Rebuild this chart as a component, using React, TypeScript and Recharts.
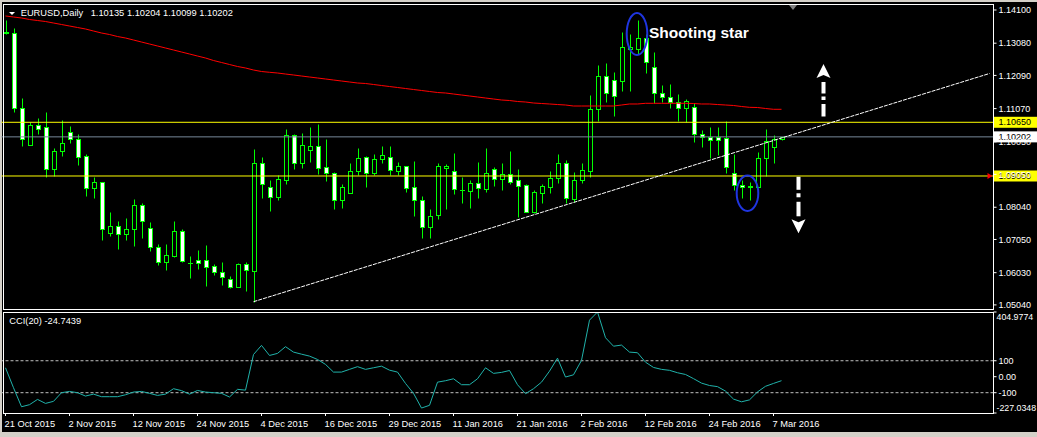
import React from 'react'
import {
  ComposedChart,
  Bar,
  Line,
  XAxis,
  YAxis,
  ReferenceLine,
  ReferenceDot,
} from 'recharts'

// EURUSD daily, 21 Oct 2015 .. 8 Mar 2016
const opens = [
  1.1338, 1.13384, 1.1108, 1.09962, 1.10558, 1.10496, 1.09206, 1.09759, 1.10343, 1.10127,
  1.09614, 1.08622, 1.08806, 1.0724, 1.07473, 1.07209, 1.07363, 1.081, 1.07393, 1.06828,
  1.06367, 1.06542, 1.07301, 1.0634, 1.0641, 1.0641, 1.06235, 1.0606, 1.05826, 1.05599,
  1.06287, 1.06091, 1.0939, 1.08671, 1.08364, 1.08886, 1.1025, 1.0939, 1.0979, 1.09912,
  1.09267, 1.09083, 1.08253, 1.08487, 1.09144, 1.09574, 1.09083, 1.09513, 1.09593, 1.09163,
  1.09307, 1.08653, 1.08253, 1.07442, 1.07793, 1.09255, 1.09144, 1.0856, 1.08548, 1.08776,
  1.0861, 1.09206, 1.08899, 1.09052, 1.08877, 1.08714, 1.07903, 1.08487, 1.08671, 1.08929,
  1.0939, 1.08293, 1.08877, 1.09163, 1.11049, 1.12072, 1.1194, 1.11919, 1.129, 1.12893,
  1.1323, 1.12339, 1.11541, 1.11418, 1.11283, 1.1108, 1.11111, 1.10281, 1.10189, 1.10189,
  1.10158, 1.09083, 1.08724, 1.08671, 1.08671, 1.09544, 1.09882, 1.10135,
]
const highs = [
  1.13793, 1.13538, 1.11387, 1.10668, 1.10773, 1.10957, 1.09851, 1.1072, 1.10536, 1.1029,
  1.09676, 1.08978, 1.0883, 1.07903, 1.07618, 1.077, 1.08293, 1.0817, 1.07587, 1.06911,
  1.06911, 1.07618, 1.07372, 1.06542, 1.06727, 1.0688, 1.06296, 1.06349, 1.05928, 1.06336,
  1.06358, 1.0982, 1.09574, 1.08877, 1.09022, 1.10444, 1.1028, 1.10312, 1.10496, 1.10598,
  1.10127, 1.09132, 1.08754, 1.09409, 1.0986, 1.096, 1.09676, 1.09922, 1.09922, 1.0943,
  1.0932, 1.09461, 1.08386, 1.07977, 1.0939, 1.09369, 1.09707, 1.08978, 1.08877, 1.0943,
  1.0986, 1.09286, 1.09409, 1.09768, 1.09206, 1.08754, 1.0857, 1.08745, 1.09154, 1.09676,
  1.09492, 1.09114, 1.0939, 1.11488, 1.1241, 1.12462, 1.12206, 1.13433, 1.13356, 1.13793,
  1.1335, 1.12819, 1.11796, 1.11826, 1.11519, 1.11356, 1.11252, 1.10413, 1.10515, 1.10496,
  1.1069, 1.09667, 1.08877, 1.08806, 1.09728, 1.10444, 1.1026, 1.10204,
]
const lows = [
  1.1336, 1.10975, 1.09922, 1.0995, 1.1029, 1.0896, 1.09, 1.09624, 1.10005, 1.09329,
  1.08395, 1.08315, 1.07034, 1.07143, 1.06748, 1.07034, 1.06859, 1.07104, 1.06705, 1.06266,
  1.06112, 1.06502, 1.06367, 1.05876, 1.06152, 1.0563, 1.05959, 1.05651, 1.0555, 1.0558,
  1.05476, 1.05138, 1.08333, 1.07934, 1.08263, 1.08754, 1.09215, 1.09255, 1.09439, 1.09061,
  1.08856, 1.07986, 1.08026, 1.08468, 1.09022, 1.08671, 1.09022, 1.0939, 1.09031, 1.09031,
  1.08518, 1.07771, 1.07086, 1.07086, 1.07688, 1.07986, 1.08447, 1.0818, 1.08026, 1.08324,
  1.08508, 1.08693, 1.0857, 1.08754, 1.0775, 1.0789, 1.07854, 1.0818, 1.08487, 1.08776,
  1.08161, 1.0821, 1.08794, 1.08978, 1.1069, 1.11281, 1.10855, 1.11611, 1.11611, 1.12748,
  1.12155, 1.11253, 1.11283, 1.1108, 1.10699, 1.10668, 1.10035, 1.099, 1.09544, 1.09645,
  1.09101, 1.0857, 1.08315, 1.08263, 1.0866, 1.09, 1.0939, 1.10099,
]
const closes = [
  1.13433, 1.1108, 1.10127, 1.10558, 1.10453, 1.09206, 1.09759, 1.10005, 1.10127, 1.09574,
  1.08622, 1.08806, 1.07363, 1.07473, 1.07209, 1.07363, 1.081, 1.07608, 1.06828, 1.06367,
  1.06564, 1.07301, 1.06398, 1.0633, 1.06336, 1.06213, 1.0606, 1.05888, 1.05599, 1.06287,
  1.06103, 1.0939, 1.08745, 1.08364, 1.08899, 1.1025, 1.0939, 1.09943, 1.09912, 1.09237,
  1.09083, 1.08253, 1.08653, 1.09144, 1.09544, 1.09083, 1.09513, 1.09636, 1.09175, 1.09307,
  1.08622, 1.08253, 1.07442, 1.0778, 1.09298, 1.09307, 1.08591, 1.0857, 1.08776, 1.08622,
  1.09101, 1.08899, 1.09052, 1.08825, 1.08702, 1.07903, 1.08508, 1.08693, 1.08929, 1.09399,
  1.08315, 1.08877, 1.09184, 1.11049, 1.12072, 1.11559, 1.11458, 1.12954, 1.1295, 1.1323,
  1.12493, 1.11541, 1.11418, 1.11283, 1.1108, 1.11313, 1.10281, 1.10189, 1.10106, 1.10097,
  1.09286, 1.08714, 1.08653, 1.0868, 1.09544, 1.10075, 1.1013, 1.10202,
]
// red moving average
const maValues = [
  1.13916, 1.13885, 1.13854, 1.13808, 1.13777, 1.13746, 1.137, 1.13654, 1.13608, 1.13562,
  1.13516, 1.13454, 1.13393, 1.13347, 1.13285, 1.13239, 1.13178, 1.13116, 1.13055, 1.12994,
  1.12932, 1.12871, 1.12809, 1.12748, 1.12686, 1.12625, 1.12548, 1.12487, 1.12425, 1.12364,
  1.12318, 1.12256, 1.1221, 1.12186, 1.12164, 1.12133, 1.12103, 1.12072, 1.12041, 1.12011,
  1.1198, 1.11949, 1.11918, 1.11888, 1.11857, 1.11842, 1.11811, 1.1178, 1.11749, 1.11719,
  1.11688, 1.11657, 1.11627, 1.11596, 1.11565, 1.1155, 1.11519, 1.11488, 1.11458, 1.11427,
  1.11396, 1.11365, 1.11335, 1.11319, 1.11289, 1.11273, 1.11243, 1.11227, 1.11212, 1.11196,
  1.11181, 1.1115, 1.1115, 1.1115, 1.1115, 1.1115, 1.1115, 1.11181, 1.11212, 1.11212,
  1.11233, 1.11233, 1.11233, 1.11233, 1.11233, 1.11233, 1.11227, 1.11212, 1.11212, 1.11196,
  1.11181, 1.11166, 1.11135, 1.1111, 1.11104, 1.11074, 1.11049, 1.11049,
]
// CCI(20)
const cciValues = [
  56, -69, -188, -175, -142, -167, -154, -100, -92, -100,
  -121, -109, -125, -125, -125, -113, -96, -92, -104, -117,
  -109, -75, -87, -109, -86, -96, -100, -104, -127, -79,
  -84, 139, 196, 133, 146, 188, 154, 141, 129, 108,
  77, 29, 29, 46, 63, 46, 56, 66, 41, 29,
  -42, -104, -196, -179, -34, -25, -13, -50, -50, -13,
  56, 21, 27, 39, -50, -106, -75, -34, 35, 116,
  -2, 12, 102, 354, 404.9774, 244, 191, 198, 154, 150,
  91, 58, 46, 40, 25, 14, -12, -40, -55, -62,
  -90, -140, -157, -145, -95, -60, -42, -24.7439,
]

const dateTicks = [0, 8, 16, 24, 32, 40, 48, 56, 64, 72, 80, 88, 96]
const dateLabels = [
  '21 Oct 2015', '2 Nov 2015', '12 Nov 2015', '24 Nov 2015', '4 Dec 2015', '16 Dec 2015',
  '29 Dec 2015', '11 Jan 2016', '21 Jan 2016', '2 Feb 2016', '12 Feb 2016', '24 Feb 2016',
  '7 Mar 2016',
]
const priceTicks = [1.141, 1.1308, 1.1209, 1.1107, 1.1005, 1.0905, 1.0804, 1.0705, 1.0603, 1.0504]
const cciTicks = [-227.0348, -100, 0, 100, 404.9774]
const quote = ['1.10135', '1.10204', '1.10099', '1.10202']

const RESISTANCE = 1.1065
const SUPPORT = 1.09
const BID = 1.10202
const TREND_FROM = { x: 31, y: 1.05138 }
const TREND_TO = { x: 123, y: 1.12149 }

const PRICE_MIN = 1.04914
const PRICE_MAX = 1.14284
const SLOTS = 124 // bars plus the empty shift area on the right

const FONT = '"Liberation Sans", Arial, sans-serif'
const CANDLE_LINE = '#00ff00'
const BLUE = '#1f35e0'

const rows = Array.from({ length: SLOTS }, (_, i) =>
  i < opens.length
    ? {
        i,
        range: [lows[i], highs[i]],
        open: opens[i],
        high: highs[i],
        low: lows[i],
        close: closes[i],
        ma: maValues[i],
        cci: cciValues[i],
      }
    : { i }
)

function Candle(props: any) {
  const { x, y, width, height, payload } = props
  if (!payload || payload.open == null || !Number.isFinite(y)) return <g />
  const { open, high, low, close } = payload
  const top = Math.min(y, y + height)
  const span = Math.abs(height)
  const toY = (v: number) => top + ((high - v) / (high - low)) * span
  const cx = Math.floor(x + width / 2) + 0.5
  const wickTop = Math.round(toY(high)) + 0.5
  const wickBottom = Math.round(toY(low)) + 0.5
  const bodyTop = Math.round(toY(Math.max(open, close))) + 0.5
  const bodyBottom = Math.round(toY(Math.min(open, close))) + 0.5
  const bull = close >= open
  return (
    <g>
      <line x1={cx} x2={cx} y1={wickTop} y2={wickBottom} stroke={CANDLE_LINE} />
      {bodyBottom - bodyTop < 1 ? (
        <line x1={cx - 2.5} x2={cx + 2.5} y1={bodyTop} y2={bodyTop} stroke={CANDLE_LINE} />
      ) : (
        <rect
          x={cx - 2}
          y={bodyTop}
          width={4}
          height={bodyBottom - bodyTop}
          fill={bull ? '#000' : '#fff'}
          stroke={CANDLE_LINE}
        />
      )}
    </g>
  )
}

function PriceTag(props: any) {
  const { viewBox, text, bg, alert } = props
  if (!viewBox) return null
  const left = viewBox.x + viewBox.width
  const y = viewBox.y
  return (
    <g>
      {alert && <polygon points={`${left - 6},${y - 3} ${left - 1},${y} ${left - 6},${y + 3}`} fill="#ff0000" />}
      <rect x={left} y={y - 5.5} width={44} height={11} fill={bg} />
      <text x={left + 5} y={y} dy="0.355em" fontSize={9} fontFamily={FONT} fill="#000">
        {text}
      </text>
    </g>
  )
}

function Ellipse(props: any) {
  const { cx, cy, rx, ry, dx = 0 } = props
  return <ellipse cx={cx + dx} cy={cy} rx={rx} ry={ry} fill="none" stroke={BLUE} strokeWidth={2} />
}

function UpArrow(props: any) {
  const cx = props.cx + 2
  const cy = props.cy
  return (
    <g fill="#fff">
      <polygon points={`${cx},${cy} ${cx + 7},${cy + 14} ${cx},${cy + 11} ${cx - 7},${cy + 14}`} />
      <rect x={cx - 2} y={cy + 18} width={4} height={11.5} />
      <rect x={cx - 2} y={cy + 32.5} width={4} height={3.5} />
      <rect x={cx - 2} y={cy + 40} width={4} height={12.5} />
    </g>
  )
}

function DownArrow(props: any) {
  const cx = props.cx + 1
  const cy = props.cy
  return (
    <g fill="#fff">
      <polygon points={`${cx},${cy} ${cx + 7},${cy - 14} ${cx},${cy - 11} ${cx - 7},${cy - 14}`} />
      <rect x={cx - 2} y={cy - 56.5} width={4} height={13} />
      <rect x={cx - 2} y={cy - 40} width={4} height={4} />
      <rect x={cx - 2} y={cy - 31.5} width={4} height={14.5} />
    </g>
  )
}

function StarLabel(props: any) {
  return (
    <text x={props.cx - 4.5} y={props.cy} fill="#fff" fontSize={15.5} fontWeight="bold" fontFamily={FONT}>
      Shooting star
    </text>
  )
}

function DateTick(props: any) {
  const { x, y, payload } = props
  const idx = dateTicks.indexOf(payload.value)
  return (
    <text x={x - 1} y={y + 8.5} fill="#fff" fontSize={9.3} fontFamily={FONT} textAnchor="start">
      {idx >= 0 ? dateLabels[idx] : ''}
    </text>
  )
}

function CciTick(props: any) {
  const { x, y, payload } = props
  const v = payload.value
  const extreme = v > 400 || v < -200
  const shift = v > 400 ? 5 : v < -200 ? -5 : 0
  const label = v === 0 ? '0.00' : Math.abs(v) === 100 ? String(v) : v.toFixed(4)
  return (
    <text
      x={extreme ? x - 2 : x}
      y={y + shift}
      dy="0.355em"
      fill="#fff"
      fontSize={extreme ? 8.8 : 9}
      fontFamily={FONT}
      textAnchor="start"
    >
      {label}
    </text>
  )
}

export default function App() {
  return (
    <div style={{ position: 'relative', width: 1037, height: 437, background: '#d4d0c8', overflow: 'hidden' }}>
      <style>{`body{margin:0;background:#fff}`}</style>
      <div style={{ position: 'absolute', left: 2, top: 2, width: 1035, height: 430, background: '#000' }} />

      <div style={{ position: 'absolute', left: 0, top: 0 }}>
        <ComposedChart
          width={1037}
          height={320}
          data={rows}
          margin={{ top: 4, right: 0, bottom: 11, left: 1.5 }}
        >
          <XAxis dataKey="i" type="category" hide />
          <YAxis
            orientation="right"
            type="number"
            width={43.5}
            domain={[PRICE_MIN, PRICE_MAX]}
            allowDataOverflow
            ticks={priceTicks}
            interval={0}
            tickFormatter={(v: number) => v.toFixed(5)}
            tick={{ fill: '#fff', fontSize: 9, fontFamily: FONT }}
            tickLine={{ stroke: '#fff' }}
            tickSize={3}
            axisLine={false}
          />
          <ReferenceLine y={RESISTANCE} stroke="#ffff00" label={<PriceTag text="1.10650" bg="#ffff00" />} />
          <ReferenceLine y={SUPPORT} stroke="#ffff00" label={<PriceTag text="1.09000" bg="#ffff00" alert />} />
          <ReferenceLine y={BID} stroke="#778899" label={<PriceTag text="1.10202" bg="#fff" />} />
          <Line
            dataKey="ma"
            stroke="#ff0000"
            strokeWidth={1}
            dot={false}
            activeDot={false}
            isAnimationActive={false}
          />
          <Bar dataKey="range" barSize={5} isAnimationActive={false} shape={(p: any) => <Candle {...p} />} />
          <ReferenceLine segment={[TREND_FROM, TREND_TO]} stroke="#fff" strokeDasharray="4 1" />
          <ReferenceDot x={79} y={1.13362} r={1} shape={(p: any) => <Ellipse {...p} rx={10.3} ry={21} dx={-0.5} />} />
          <ReferenceDot x={93} y={1.08469} r={1} shape={(p: any) => <Ellipse {...p} rx={10.8} ry={17.7} dx={-2} />} />
          <ReferenceDot x={81} y={1.1324} r={1} shape={(p: any) => <StarLabel {...p} />} />
          <ReferenceDot x={102} y={1.12441} r={1} shape={(p: any) => <UpArrow {...p} />} />
          <ReferenceDot x={99} y={1.0724} r={1} shape={(p: any) => <DownArrow {...p} />} />
        </ComposedChart>
      </div>

      <div style={{ position: 'absolute', left: 0, top: 300 }}>
        <ComposedChart
          width={1037}
          height={137}
          data={rows}
          margin={{ top: 12, right: 0, bottom: 0, left: 1.5 }}
        >
          <XAxis
            dataKey="i"
            type="category"
            scale="band"
            height={24}
            ticks={dateTicks}
            interval={0}
            tick={(p: any) => <DateTick {...p} />}
            tickLine={{ stroke: '#fff' }}
            tickSize={3}
            axisLine={false}
          />
          <YAxis
            orientation="right"
            type="number"
            width={43.5}
            domain={[-227.0348, 404.9774]}
            allowDataOverflow
            ticks={cciTicks}
            interval={0}
            tick={(p: any) => <CciTick {...p} />}
            tickLine={{ stroke: '#fff' }}
            tickSize={3}
            axisLine={false}
          />
          <ReferenceLine y={100} stroke="#c0c0c0" strokeDasharray="3 2" />
          <ReferenceLine y={-100} stroke="#c0c0c0" strokeDasharray="3 2" />
          <Line
            dataKey="cci"
            stroke="#20b2aa"
            strokeWidth={1}
            dot={false}
            activeDot={false}
            isAnimationActive={false}
          />
        </ComposedChart>
      </div>

      <svg
        width={1037}
        height={437}
        style={{ position: 'absolute', left: 0, top: 0, pointerEvents: 'none' }}
      >
        <rect x={3.5} y={4.5} width={990} height={305} fill="none" stroke="#fff" />
        <rect x={3.5} y={312.5} width={990} height={101} fill="none" stroke="#fff" />
        <polygon points="789,5 797,5 793,10" fill="#808080" />
        <polygon points="9,12 15,12 12,15" fill="#fff" />
        <text x={20.7} y={16} fill="#fff" fontSize={9.3} fontFamily={FONT}>
          EURUSD,Daily
        </text>
        <text x={90.7} y={16} fill="#fff" fontSize={9.3} fontFamily={FONT}>
          {quote.join(' ')}
        </text>
        <text x={9.3} y={324} fill="#fff" fontSize={9.3} fontFamily={FONT}>
          CCI(20) {cciValues[cciValues.length - 1].toFixed(4)}
        </text>
      </svg>
    </div>
  )
}
